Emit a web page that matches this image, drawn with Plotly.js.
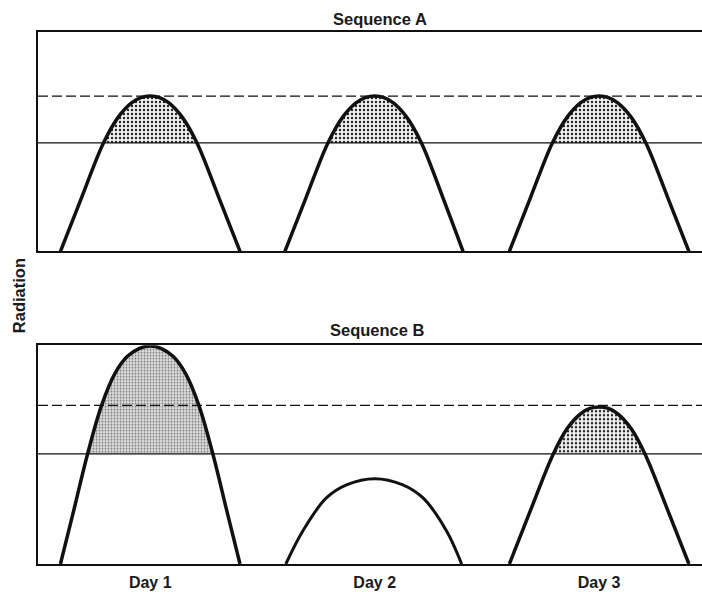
<!DOCTYPE html>
<html>
<head>
<meta charset="utf-8">
<script src="https://cdn.plot.ly/plotly-3.0.1.min.js"></script>
<style>html,body{margin:0;padding:0;background:#fff;}#chart{width:702px;height:592px;}</style>
</head>
<body>
<div id="chart"></div>
<script>
// Hours on x (day centres at 12, 36, 60), relative radiation on y (0-100)
const dayTicks = [12, 36, 60];
const dayLabels = ["Day 1", "Day 2", "Day 3"];

// Sequence A
const aThreshold = 49.4;   // solid line
const aDashed = 70.8;      // dashed line
const aDay1X = [2.4, 4.65, 7.0, 8.6, 10.0, 11.0, 12, 13.0, 14.0, 15.4, 17.0, 19.35, 21.6];
const aDay1Y = [0, 24.4, 49.4, 61.3, 67.7, 70.1, 70.8, 70.1, 67.7, 61.3, 49.4, 24.4, 0];
const aDay2X = [26.4, 28.65, 31.0, 32.6, 34.0, 35.0, 36, 37.0, 38.0, 39.4, 41.0, 43.3, 45.45];
const aDay2Y = [0, 24.4, 49.4, 61.3, 67.7, 70.1, 70.8, 70.1, 67.7, 61.3, 49.4, 24.4, 0];
const aDay3X = [50.4, 52.65, 55.0, 56.6, 58.0, 59.0, 60, 61.0, 62.0, 63.4, 65.0, 67.35, 69.6];
const aDay3Y = [0, 24.4, 49.4, 61.3, 67.7, 70.1, 70.8, 70.1, 67.7, 61.3, 49.4, 24.4, 0];

// Sequence B
const bThreshold = 50.3;
const bDashed = 72.5;
const bDay1X = [2.4, 3.85, 5.3, 6.8, 8.26, 9.56, 10.8, 12, 13.2, 14.44, 15.74, 17.2, 18.7, 20.15, 21.6];
const bDay1Y = [0, 25, 50.3, 72.5, 87.3, 94.9, 98.4, 99.6, 98.4, 94.9, 87.3, 72.5, 50.3, 25, 0];
const bDay2X = [26.5, 28.3, 30.83, 33.05, 36, 38.95, 41.17, 43.7, 45.3];
const bDay2Y = [0, 15, 30.2, 36.3, 39, 36.3, 30.2, 15, 0];
const bDay3X = [50.4, 52.7, 55.1, 56.6, 58.0, 59.0, 60, 61.0, 62.0, 63.4, 64.9, 67.3, 69.6];
const bDay3Y = [0, 25, 50.3, 62, 68.6, 71.1, 71.8, 71.1, 68.6, 62, 50.3, 25, 0];

const xMax = 71.0;
const yMax = 100;
const INK = '#111';

const stipple = {shape: '.', size: 4, solidity: 0.28, fgcolor: '#222', bgcolor: '#f0f0f0', fillmode: 'replace'};
const stippleLight = {shape: '.', size: 3, solidity: 0.35, fgcolor: '#777', bgcolor: '#e2e2e2', fillmode: 'replace'};

function fillTrace(x, y, xa, ya, pat) {
  return {x: x, y: y, xaxis: xa, yaxis: ya, type: 'scatter', mode: 'lines',
    line: {width: 0, shape: 'spline', smoothing: 1}, fill: 'tozeroy', fillcolor: '#bbb',
    fillpattern: pat, hoverinfo: 'skip', showlegend: false};
}
function maskTrace(thr, xa, ya) {
  return {x: [0, xMax, xMax, 0, 0], y: [0, 0, thr, thr, 0], xaxis: xa, yaxis: ya,
    type: 'scatter', mode: 'lines', line: {width: 0}, fill: 'toself', fillcolor: '#ffffff',
    hoverinfo: 'skip', showlegend: false};
}
function curveTrace(x, y, xa, ya, w) {
  return {x: x, y: y, xaxis: xa, yaxis: ya, type: 'scatter', mode: 'lines',
    line: {color: INK, width: w, shape: 'spline', smoothing: 1}, hoverinfo: 'skip', showlegend: false};
}

const data = [
  fillTrace(aDay1X, aDay1Y, 'x', 'y', stipple),
  fillTrace(aDay2X, aDay2Y, 'x', 'y', stipple),
  fillTrace(aDay3X, aDay3Y, 'x', 'y', stipple),
  maskTrace(aThreshold, 'x', 'y'),
  fillTrace(bDay1X, bDay1Y, 'x2', 'y2', stippleLight),
  fillTrace(bDay3X, bDay3Y, 'x2', 'y2', stipple),
  maskTrace(bThreshold, 'x2', 'y2'),
  curveTrace(aDay1X, aDay1Y, 'x', 'y', 3.5),
  curveTrace(aDay2X, aDay2Y, 'x', 'y', 3.5),
  curveTrace(aDay3X, aDay3Y, 'x', 'y', 3.5),
  curveTrace(bDay1X, bDay1Y, 'x2', 'y2', 3.5),
  curveTrace(bDay2X, bDay2Y, 'x2', 'y2', 3),
  curveTrace(bDay3X, bDay3Y, 'x2', 'y2', 3.5)
];

function hline(yv, xref, yref, dash) {
  return {type: 'line', xref: xref + ' domain', yref: yref, x0: 0, x1: 1, y0: yv, y1: yv,
    line: {color: INK, width: 1.3, dash: dash}, layer: 'above'};
}

const axBase = {showgrid: false, zeroline: false, showline: true, linecolor: INK, ticks: ''};
const FONT = 'Liberation Sans, Arial, sans-serif';
const TXT = '#1a1a1a';

const layout = {
  width: 702, height: 592,
  margin: {l: 38, r: 0, t: 32, b: 27.5},
  paper_bgcolor: '#fff', plot_bgcolor: '#fff',
  showlegend: false,
  font: {family: FONT, color: TXT},
  xaxis: Object.assign({}, axBase, {anchor: 'y', range: [0, xMax], mirror: true, linewidth: 2.2, showticklabels: false}),
  yaxis: Object.assign({}, axBase, {anchor: 'x', domain: [0.5878, 1], range: [0, yMax], linewidth: 2, showticklabels: false}),
  xaxis2: Object.assign({}, axBase, {anchor: 'y2', range: [0, xMax], mirror: true, linewidth: 2.2,
    tickmode: 'array', tickvals: dayTicks, ticktext: dayLabels, ticklabelstandoff: 3,
    tickfont: {family: FONT, size: 16, color: TXT, weight: 'bold'}}),
  yaxis2: Object.assign({}, axBase, {anchor: 'x2', domain: [0, 0.4113], range: [0, yMax], linewidth: 2, showticklabels: false}),
  shapes: [
    hline(aThreshold, 'x', 'y', 'solid'),
    hline(aDashed, 'x', 'y', '10px,4px'),
    hline(bThreshold, 'x2', 'y2', 'solid'),
    hline(bDashed, 'x2', 'y2', '10px,4px')
  ],
  annotations: [
    {text: 'Sequence A', xref: 'paper', yref: 'paper', x: 0.515, y: 1.0245, xanchor: 'center', yanchor: 'middle',
      showarrow: false, font: {family: FONT, size: 16.5, color: TXT, weight: 'bold'}},
    {text: 'Sequence B', xref: 'paper', yref: 'paper', x: 0.512, y: 0.4405, xanchor: 'center', yanchor: 'middle',
      showarrow: false, font: {family: FONT, size: 16.5, color: TXT, weight: 'bold'}},
    {text: 'Radiation', xref: 'paper', yref: 'paper', x: -0.0286, y: 0.5035, xanchor: 'center', yanchor: 'middle',
      textangle: -90, showarrow: false, font: {family: FONT, size: 16.5, color: TXT, weight: 'bold'}}
  ]
};

Plotly.newPlot('chart', data, layout, {displayModeBar: false, staticPlot: true});
</script>
</body>
</html>
